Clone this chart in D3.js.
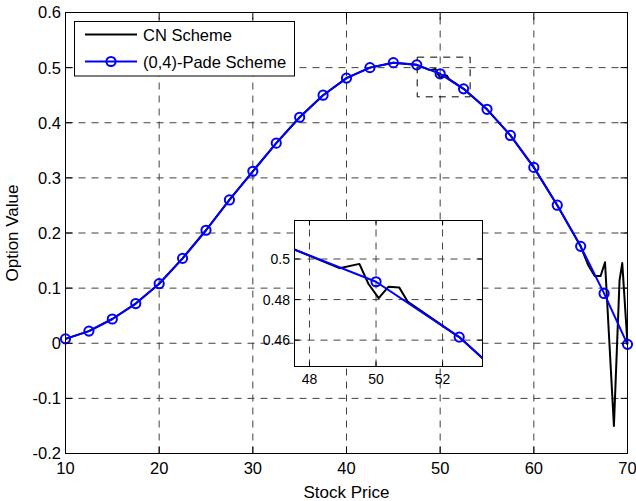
<!DOCTYPE html>
<html>
<head>
<meta charset="utf-8">
<script src="https://cdn.jsdelivr.net/npm/d3@7"></script>
<style>
  body { margin: 0; background: #fff; }
  text { font-family: "Liberation Sans", Arial, sans-serif; fill: #000; }
</style>
</head>
<body>
<div id="my_dataviz"></div>
<script>

var padePrice = [10, 12.5, 15, 17.5, 20, 22.5, 25, 27.5, 30, 32.5, 35, 37.5, 40, 42.5, 45, 47.5, 50, 52.5, 55, 57.5, 60, 62.5, 65, 67.5, 70]
var padeValue = [0.008, 0.022, 0.044, 0.072, 0.108, 0.154, 0.205, 0.26, 0.312, 0.363, 0.41, 0.45, 0.481, 0.5, 0.509, 0.505, 0.4888, 0.4615, 0.4244, 0.377, 0.319, 0.2504, 0.1758, 0.0904, -0.002]

var cnPrice = [10, 12.5, 15, 17.5, 20, 22.5, 25, 27.5, 30, 32.5, 35, 37.5, 40, 42.5, 45, 47.5, 48.9, 49.5, 49.77, 50.08, 50.37, 50.7, 50.95, 52.5, 55, 57.5, 60, 62.5, 65, 65.79, 66.5, 67.13, 67.6, 68.55, 69.15, 69.44, 70]
var cnValue = [0.008, 0.022, 0.044, 0.072, 0.108, 0.154, 0.205, 0.26, 0.312, 0.363, 0.41, 0.45, 0.481, 0.5, 0.509, 0.505, 0.4955, 0.4976, 0.4878, 0.4807, 0.4863, 0.4859, 0.479, 0.4615, 0.4244, 0.377, 0.319, 0.2504, 0.1758, 0.142, 0.122, 0.122, 0.147, -0.15, 0.114, 0.1455, -0.002]

var xTicks = [10, 20, 30, 40, 50, 60, 70]
var yTicks = [-0.2, -0.1, 0, 0.1, 0.2, 0.3, 0.4, 0.5, 0.6]
var insetXTicks = [48, 50, 52]
var insetYTicks = [0.46, 0.48, 0.5]
var insetXDomain = [47.55, 53.2]
var insetYDomain = [0.447, 0.519]

var seriesNames = ["CN Scheme", "(0,4)-Pade Scheme"]

var width = 636,
    height = 501,
    pL = 65.5, pR = 627.5, pT = 12.5, pB = 453.5

var svg = d3.select("#my_dataviz")
  .append("svg")
    .attr("width", width)
    .attr("height", height)

var x = d3.scaleLinear().domain([10, 70]).range([pL, pR])
var y = d3.scaleLinear().domain([-0.2, 0.6]).range([pB, pT])

var cn = cnPrice.map(function(p, i) { return [p, cnValue[i]] })
var pade = padePrice.map(function(p, i) { return [p, padeValue[i]] })

// grid
var gridColor = "#404040", dash = "7,6"
svg.append("g").selectAll("line")
  .data(xTicks.slice(1, -1))
  .enter().append("line")
    .attr("x1", function(d) { return x(d) }).attr("x2", function(d) { return x(d) })
    .attr("y1", pB).attr("y2", pT)
    .attr("stroke", gridColor).attr("stroke-dasharray", dash)
svg.append("g").selectAll("line")
  .data(yTicks.slice(1, -1))
  .enter().append("line")
    .attr("y1", function(d) { return y(d) }).attr("y2", function(d) { return y(d) })
    .attr("x1", pL).attr("x2", pR)
    .attr("stroke", gridColor).attr("stroke-dasharray", dash)

function drawSeries(g, sx, sy, r) {
  var dom = sx.domain()
  g.append("path")
    .datum(cn)
    .attr("fill", "none").attr("stroke", "#000").attr("stroke-width", 2)
    .attr("stroke-linejoin", "round")
    .attr("d", d3.line()
      .x(function(d) { return sx(d[0]) }).y(function(d) { return sy(d[1]) }))
  g.append("path")
    .datum(pade)
    .attr("fill", "none").attr("stroke", "#0000ff").attr("stroke-width", 2)
    .attr("stroke-linejoin", "round")
    .attr("d", d3.line()
      .x(function(d) { return sx(d[0]) }).y(function(d) { return sy(d[1]) }))
  // markers only where the point lies inside the axes
  g.selectAll("circle")
    .data(pade.filter(function(d) { return d[0] >= dom[0] && d[0] <= dom[1] }))
    .enter().append("circle")
      .attr("cx", function(d) { return sx(d[0]) })
      .attr("cy", function(d) { return sy(d[1]) })
      .attr("r", r)
      .attr("fill", "none").attr("stroke", "#0000ff").attr("stroke-width", 2)
}

drawSeries(svg.append("g"), x, y, 4.6)

// zoom box
svg.append("rect")
  .attr("x", x(insetXDomain[0])).attr("y", y(insetYDomain[1]))
  .attr("width", x(insetXDomain[1]) - x(insetXDomain[0]))
  .attr("height", y(insetYDomain[0]) - y(insetYDomain[1]))
  .attr("fill", "none").attr("stroke", "#000").attr("stroke-dasharray", "7,6")

// axes box with inward ticks
function boxAxes(g, sx, sy, xt, yt, tl, fs, xfmt, yfmt, xLabY, yLabX) {
  var r0 = sx.range(), d0 = sy.range()
  g.append("rect")
    .attr("x", r0[0]).attr("y", d0[1])
    .attr("width", r0[1] - r0[0]).attr("height", d0[0] - d0[1])
    .attr("fill", "none").attr("stroke", "#000")
  var tk = g.append("g").attr("stroke", "#000")
  xt.forEach(function(t) {
    tk.append("line").attr("x1", sx(t)).attr("x2", sx(t)).attr("y1", d0[0]).attr("y2", d0[0] - tl)
    tk.append("line").attr("x1", sx(t)).attr("x2", sx(t)).attr("y1", d0[1]).attr("y2", d0[1] + tl)
  })
  yt.forEach(function(t) {
    tk.append("line").attr("y1", sy(t)).attr("y2", sy(t)).attr("x1", r0[0]).attr("x2", r0[0] + tl)
    tk.append("line").attr("y1", sy(t)).attr("y2", sy(t)).attr("x1", r0[1]).attr("x2", r0[1] - tl)
  })
  g.append("g").selectAll("text")
    .data(xt).enter().append("text")
      .attr("x", function(d) { return sx(d) })
      .attr("y", xLabY)
      .attr("text-anchor", "middle")
      .style("font-size", fs + "px")
      .text(xfmt)
  g.append("g").selectAll("text")
    .data(yt).enter().append("text")
      .attr("x", yLabX)
      .attr("y", function(d) { return sy(d) + fs * 0.36 })
      .attr("text-anchor", "end")
      .style("font-size", fs + "px")
      .text(yfmt)
}

boxAxes(svg.append("g"), x, y, xTicks, yTicks, 7, 16.5,
  function(d) { return d }, function(d) { return +d.toFixed(1) }, 474, 61)

svg.append("text")
  .attr("x", (pL + pR) / 2).attr("y", 498)
  .attr("text-anchor", "middle")
  .style("font-size", "17px")
  .text("Stock Price")
svg.append("text")
  .attr("transform", "translate(18," + (pT + pB) / 2 + ") rotate(-90)")
  .attr("text-anchor", "middle")
  .style("font-size", "17px")
  .text("Option Value")

// inset
var ix = d3.scaleLinear().domain(insetXDomain).range([294.5, 482.5])
var iy = d3.scaleLinear().domain(insetYDomain).range([366.5, 220.5])
var inset = svg.append("g")
inset.append("rect")
  .attr("x", 294.5).attr("y", 220.5).attr("width", 188).attr("height", 146)
  .attr("fill", "#fff")
inset.append("clipPath").attr("id", "insetClip")
  .append("rect").attr("x", 294.5).attr("y", 220.5).attr("width", 188).attr("height", 146)
inset.append("g").selectAll("line")
  .data(insetXTicks).enter().append("line")
    .attr("x1", function(d) { return ix(d) }).attr("x2", function(d) { return ix(d) })
    .attr("y1", 366.5).attr("y2", 220.5)
    .attr("stroke", gridColor).attr("stroke-dasharray", dash)
inset.append("g").selectAll("line")
  .data(insetYTicks).enter().append("line")
    .attr("y1", function(d) { return iy(d) }).attr("y2", function(d) { return iy(d) })
    .attr("x1", 294.5).attr("x2", 482.5)
    .attr("stroke", gridColor).attr("stroke-dasharray", dash)
drawSeries(inset.append("g").attr("clip-path", "url(#insetClip)"), ix, iy, 4.6)
boxAxes(inset.append("g"), ix, iy, insetXTicks, insetYTicks, 5, 14,
  function(d) { return d }, function(d) { return +d.toFixed(2) }, 384, 290)

// legend
var legend = svg.append("g")
legend.append("rect")
  .attr("x", 74.5).attr("y", 21.5).attr("width", 220).attr("height", 54.5)
  .attr("fill", "#fff").attr("stroke", "#000")
legend.append("line")
  .attr("x1", 85).attr("x2", 137).attr("y1", 34.5).attr("y2", 34.5)
  .attr("stroke", "#000").attr("stroke-width", 2)
legend.append("line")
  .attr("x1", 85).attr("x2", 137).attr("y1", 61.5).attr("y2", 61.5)
  .attr("stroke", "#0000ff").attr("stroke-width", 2)
legend.append("circle")
  .attr("cx", 111).attr("cy", 61.5).attr("r", 4.6)
  .attr("fill", "none").attr("stroke", "#0000ff").attr("stroke-width", 2)
legend.selectAll("text.lg")
  .data(seriesNames).enter().append("text")
    .attr("x", 143)
    .attr("y", function(d, i) { return i === 0 ? 40.5 : 67.5 })
    .style("font-size", "16.5px")
    .text(function(d) { return d })

</script>
</body>
</html>
